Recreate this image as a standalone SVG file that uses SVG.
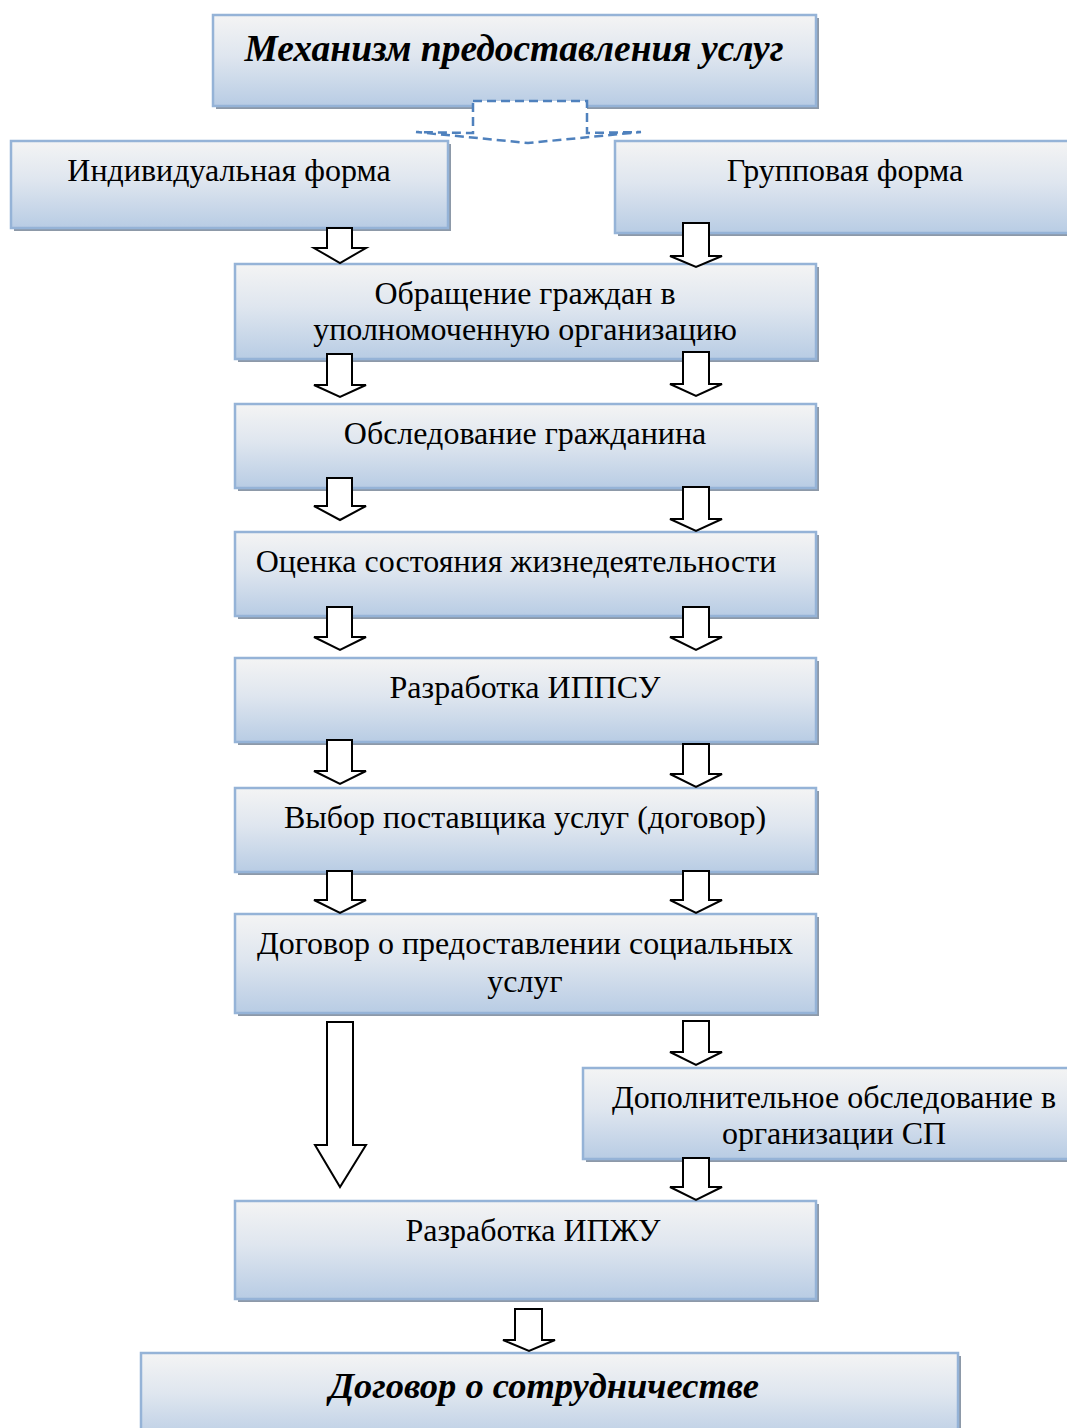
<svg xmlns="http://www.w3.org/2000/svg" width="1067" height="1428" viewBox="0 0 1067 1428">
<defs>
<linearGradient id="g" x1="0" y1="0" x2="0" y2="1">
<stop offset="0" stop-color="#f4f4f4"/>
<stop offset="0.45" stop-color="#dfe6ef"/>
<stop offset="1" stop-color="#b8cce4"/>
</linearGradient>
</defs>
<style>
.sh{fill:#8d99a8}
.bx{fill:url(#g);stroke:#95b3d7;stroke-width:2.5}
.t{font-family:"Liberation Serif","Times New Roman",serif;font-size:32px;fill:#000;text-anchor:middle}
.tb{font-family:"Liberation Serif","Times New Roman",serif;font-size:37.5px;font-weight:bold;font-style:italic;fill:#000;text-anchor:middle}
.ar{fill:#fff;stroke:#000;stroke-width:2;stroke-linejoin:miter}
.da{fill:#fff;stroke:#4f81bd;stroke-width:2.5;stroke-dasharray:9 5}
</style>
<rect width="1067" height="1428" fill="#fff"/>

<g id="n-title">
<rect class="sh" x="216" y="18" width="603" height="91"/>
<rect class="bx" x="213" y="15" width="603" height="91"/>
<text class="tb" x="514" y="61">Механизм предоставления услуг</text>
</g>

<g id="connectors">
<path class="da" d="M473,101 L587,101 L587,133 L641,132 L528,143 L416,132 L473,133 Z"/>
</g>

<g id="n-ind">
<rect class="sh" x="14" y="144" width="437" height="87"/>
<rect class="bx" x="11" y="141" width="437" height="87"/>
<text class="t" x="229" y="181">Индивидуальная форма</text>
</g>

<g id="n-grp">
<rect class="sh" x="618" y="144" width="460" height="92"/>
<rect class="bx" x="615" y="141" width="460" height="92"/>
<text class="t" x="845" y="181">Групповая форма</text>
</g>

<g id="n-obr">
<rect class="sh" x="238" y="267" width="581" height="95"/>
<rect class="bx" x="235" y="264" width="581" height="95"/>
<text class="t" x="525" y="304">Обращение граждан в</text>
<text class="t" x="525" y="340">уполномоченную организацию</text>
</g>

<g id="n-obs">
<rect class="sh" x="238" y="407" width="581" height="84"/>
<rect class="bx" x="235" y="404" width="581" height="84"/>
<text class="t" x="525" y="444">Обследование гражданина</text>
</g>

<g id="n-ocen">
<rect class="sh" x="238" y="535" width="581" height="84"/>
<rect class="bx" x="235" y="532" width="581" height="84"/>
<text class="t" x="516" y="572">Оценка состояния жизнедеятельности</text>
</g>

<g id="n-ippsu">
<rect class="sh" x="238" y="661" width="581" height="84"/>
<rect class="bx" x="235" y="658" width="581" height="84"/>
<text class="t" x="525" y="698">Разработка ИППСУ</text>
</g>

<g id="n-vybor">
<rect class="sh" x="238" y="791" width="581" height="84"/>
<rect class="bx" x="235" y="788" width="581" height="84"/>
<text class="t" x="525" y="828">Выбор поставщика услуг (договор)</text>
</g>

<g id="n-dog">
<rect class="sh" x="238" y="917" width="581" height="99"/>
<rect class="bx" x="235" y="914" width="581" height="99"/>
<text class="t" x="525" y="954">Договор о предоставлении социальных</text>
<text class="t" x="525" y="992">услуг</text>
</g>

<g id="n-dop">
<rect class="sh" x="586" y="1071" width="490" height="91"/>
<rect class="bx" x="583" y="1068" width="490" height="91"/>
<text class="t" x="834" y="1108">Дополнительное обследование в</text>
<text class="t" x="834" y="1144">организации СП</text>
</g>

<g id="n-ipzhu">
<rect class="sh" x="238" y="1204" width="581" height="98"/>
<rect class="bx" x="235" y="1201" width="581" height="98"/>
<text class="t" x="533" y="1241">Разработка ИПЖУ</text>
</g>

<g id="n-sotr">
<rect class="sh" x="144" y="1356" width="817" height="90"/>
<rect class="bx" x="141" y="1353" width="817" height="90"/>
<text class="tb" x="544" y="1398" style="font-size:36.5px">Договор о сотрудничестве</text>
</g>

<g id="arrows">
<path class="ar" d="M327,228 L352,228 L352,248 L366,248 L340,263 L314,248 L327,248 Z"/>
<path class="ar" d="M683,223 L709,223 L709,256 L722,256 L696,267 L670,256 L683,256 Z"/>
<path class="ar" d="M327,354 L352,354 L352,385 L366,385 L340,397 L314,385 L327,385 Z"/>
<path class="ar" d="M683,352 L709,352 L709,384 L722,384 L696,396 L670,384 L683,384 Z"/>
<path class="ar" d="M327,478 L352,478 L352,506 L366,506 L340,520 L314,506 L327,506 Z"/>
<path class="ar" d="M683,487 L709,487 L709,519 L722,519 L696,531 L670,519 L683,519 Z"/>
<path class="ar" d="M327,607 L352,607 L352,637 L366,637 L340,650 L314,637 L327,637 Z"/>
<path class="ar" d="M683,607 L709,607 L709,637 L722,637 L696,650 L670,637 L683,637 Z"/>
<path class="ar" d="M327,740 L352,740 L352,771 L366,771 L340,784 L314,771 L327,771 Z"/>
<path class="ar" d="M683,744 L709,744 L709,774 L722,774 L696,787 L670,774 L683,774 Z"/>
<path class="ar" d="M327,871 L352,871 L352,900 L366,900 L340,913 L314,900 L327,900 Z"/>
<path class="ar" d="M683,871 L709,871 L709,900 L722,900 L696,913 L670,900 L683,900 Z"/>
<path class="ar" d="M327,1022 L353,1022 L353,1145 L366,1145 L340,1187 L315,1145 L327,1145 Z"/>
<path class="ar" d="M683,1021 L709,1021 L709,1052 L722,1052 L696,1065 L670,1052 L683,1052 Z"/>
<path class="ar" d="M683,1158 L709,1158 L709,1187 L722,1187 L696,1200 L670,1187 L683,1187 Z"/>
<path class="ar" d="M515,1309 L542,1309 L542,1340 L555,1340 L529,1351 L503,1340 L515,1340 Z"/>
</g>
</svg>
